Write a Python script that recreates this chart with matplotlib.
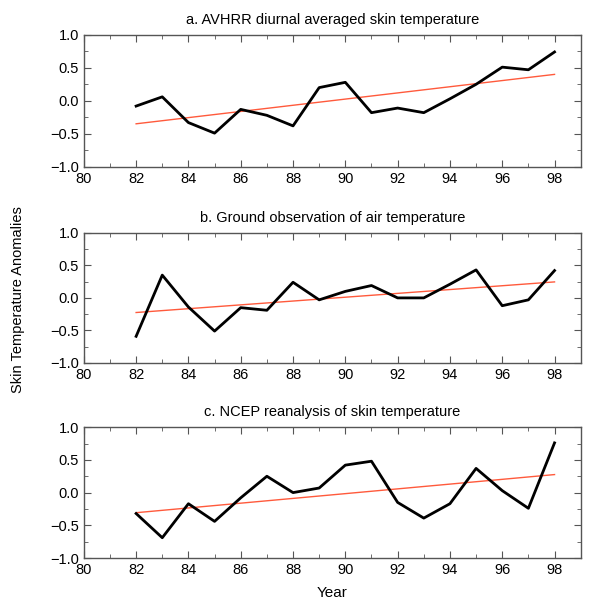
import numpy as np
import matplotlib
matplotlib.use("Agg")
import matplotlib.pyplot as plt
from matplotlib.ticker import MultipleLocator, FuncFormatter

plt.rcParams["font.family"] = ["Liberation Sans", "DejaVu Sans"]

years = np.arange(82, 99)

avhrr = [-0.08, 0.06, -0.33, -0.49, -0.13, -0.22, -0.38, 0.20, 0.28, -0.18,
         -0.11, -0.18, 0.03, 0.25, 0.51, 0.47, 0.74]
ground = [-0.59, 0.35, -0.14, -0.51, -0.15, -0.19, 0.24, -0.03, 0.10, 0.19,
          0.00, 0.00, 0.21, 0.43, -0.12, -0.03, 0.42]
ncep = [-0.32, -0.69, -0.17, -0.44, -0.08, 0.25, 0.00, 0.07, 0.42, 0.48,
        -0.15, -0.39, -0.17, 0.37, 0.03, -0.24, 0.76]

titles = ["a. AVHRR diurnal averaged skin temperature",
          "b. Ground observation of air temperature",
          "c. NCEP reanalysis of skin temperature"]
series = [avhrr, ground, ncep]

fig = plt.figure(figsize=(6.03, 6.0), dpi=100)
boxes = [(0.139, 0.722, 0.824, 0.220),
         (0.139, 0.395, 0.824, 0.217),
         (0.139, 0.070, 0.824, 0.218)]

yfmt = FuncFormatter(lambda v, p: f"{v:.1f}".replace("-", "\u2212"))

for box, title, vals in zip(boxes, titles, series):
    ax = fig.add_axes(box)
    vals = np.array(vals)
    # linear trend
    slope, icpt = np.polyfit(years, vals, 1)
    ax.plot(years, slope * years + icpt, color="#ff5a3c", lw=1.0, zorder=2)
    ax.plot(years, vals, color="black", lw=2.0, zorder=3)
    ax.set_xlim(80, 99)
    ax.set_ylim(-1.0, 1.0)
    ax.xaxis.set_major_locator(MultipleLocator(2))
    ax.xaxis.set_minor_locator(MultipleLocator(1))
    ax.yaxis.set_major_locator(MultipleLocator(0.5))
    ax.yaxis.set_minor_locator(MultipleLocator(0.25))
    ax.yaxis.set_major_formatter(yfmt)
    ax.tick_params(which="both", direction="in", top=True, right=True,
                   labelsize=10.5, color="#555555")
    ax.tick_params(which="major", length=5)
    ax.tick_params(which="minor", length=3)
    for s in ax.spines.values():
        s.set_color("#555555")
        s.set_linewidth(1.0)
    ax.set_title(title, fontsize=10.5, pad=8)

fig.text(0.03, 0.5, "Skin Temperature Anomalies", rotation=90,
         ha="center", va="center", fontsize=10.5)
fig.text(0.55, 0.012, "Year", ha="center", va="center", fontsize=11)

fig.savefig("out.png", dpi=100)
